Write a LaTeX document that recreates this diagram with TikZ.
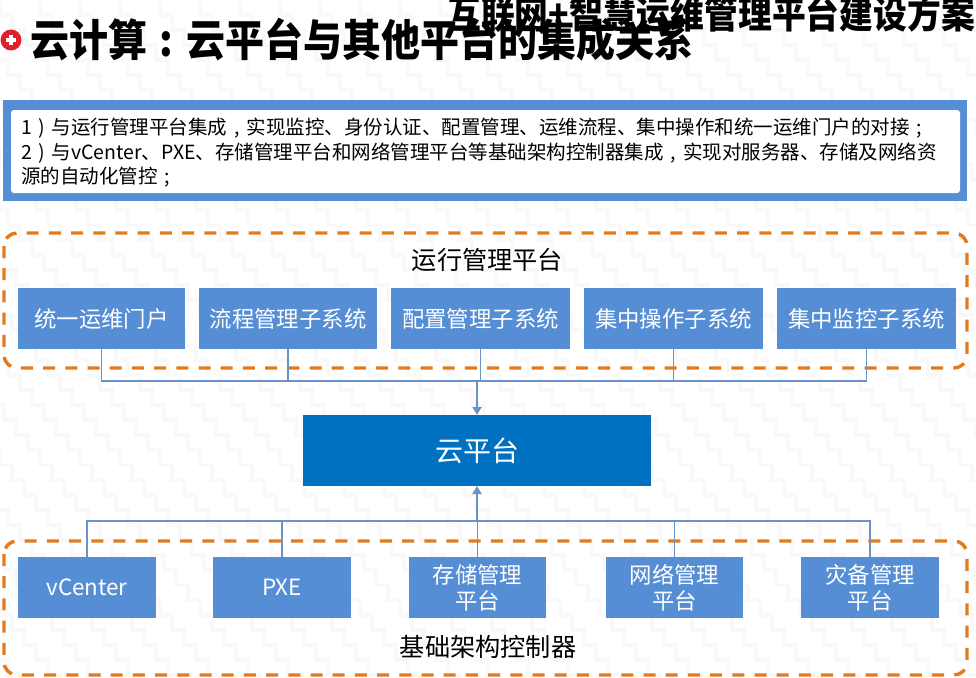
\documentclass[tikz,border=0pt]{standalone}
\usepackage{fontspec}
\setmainfont{Noto Sans CJK SC}
\usetikzlibrary{arrows.meta}
\definecolor{boxblue}{HTML}{558ED5}
\definecolor{cloudblue}{HTML}{0070C0}
\definecolor{dashorange}{HTML}{E47A1E}
\definecolor{linkblue}{HTML}{6A93C6}
\definecolor{iconred}{HTML}{E0202A}
\newcommand{\fw}[1]{\makebox[1em][c]{#1}}
\tikzset{
  sysbox/.style={draw=none,fill=boxblue,text=white,inner sep=0pt,outer sep=0pt,minimum height=61pt,align=center,font=\fontsize{22.4}{26}\selectfont},
  cloudbox/.style={fill=cloudblue,text=white,inner sep=0pt,outer sep=0pt,minimum width=348pt,minimum height=71pt,font=\fontsize{28}{32}\selectfont},
  groupframe/.style={draw=dashorange,line width=3.4pt,rounded corners=13pt,dash pattern=on 12pt off 10.2pt},
  grouplabel/.style={inner sep=0pt,text=black,font=\fontsize{25.2}{29}\selectfont},
  link/.style={draw=linkblue,line width=1.3pt},
  mainlink/.style={draw=linkblue,line width=2pt,-{Triangle[length=8pt,width=9pt]}},
  bgmark/.style={draw=black!2.5,line width=3.5pt},
  titletext/.style={inner sep=0pt,text=black,font=\fontsize{39}{44}\selectfont\bfseries},
  subtitletext/.style={inner sep=0pt,text=black,font=\fontsize{33.8}{38}\selectfont\bfseries},
}
\begin{document}
\begin{tikzpicture}[x=1pt,y=-1pt]
\clip (0,0) rectangle (976,677);
\fill[white] (0,0) rectangle (976,677);
% faint background pattern
\foreach \ox in {-640,-600,...,960}{
  \draw[bgmark] (\ox,0) \foreach \k in {1,...,46}{ -- ++(0,15) -- ++(12,0) };
}
% heading
\fill[iconred] (11,40) circle (10.5);
\fill[white] (6,38) rectangle (16,42);
\fill[white] (9,35) rectangle (13,45);
\node[titletext,anchor=west,yscale=1.12] (title) at (30,39.5) {云计算\fw{:}云平台与其他平台的集成关系};
\node[subtitletext,anchor=east,yscale=1.12] (subtitle) at (975,14) {互联网+智慧运维管理平台建设方案};
% info box
\fill[boxblue] (3,100) rectangle (967,201);
\fill[white,rounded corners=3pt] (11,110) rectangle (960,193);
\node[anchor=north west,inner sep=0pt,text=black,text width=930pt,align=left,font=\fontsize{19.5}{24.5}\selectfont] (info) at (21,118) {1\fw{)}与运行管理平台集成\fw{,}实现监控、身份认证、配置管理、运维流程、集中操作和统一运维门户的对接\fw{;}\\2\fw{)}与vCenter、PXE、存储管理平台和网络管理平台等基础架构控制器集成\fw{,}实现对服务器、存储及网络资\\源的自动化管控\fw{;}};
% frames
\draw[groupframe] (4,233) rectangle (967,368);
\draw[groupframe] (4,541) rectangle (967,675);
\node[grouplabel] (opslabel) at (487.5,260) {运行管理平台};
\node[grouplabel] (infralabel) at (488,647) {基础架构控制器};
% boxes
\node[sysbox,minimum width=167pt] (t1) at (101.5,318.5) {统一运维门户};
\node[sysbox,minimum width=178pt] (t2) at (288,318.5) {流程管理子系统};
\node[sysbox,minimum width=179pt] (t3) at (480.5,318.5) {配置管理子系统};
\node[sysbox,minimum width=179pt] (t4) at (673.5,318.5) {集中操作子系统};
\node[sysbox,minimum width=179pt] (t5) at (866.5,318.5) {集中监控子系统};
\node[cloudbox] (cloud) at (477,450.5) {云平台};
\node[sysbox,minimum width=138pt] (b1) at (87,587.5) {vCenter};
\node[sysbox,minimum width=138pt] (b2) at (282,587.5) {PXE};
\node[sysbox,minimum width=137pt] (b3) at (477.5,587.5) {存储管理\\平台};
\node[sysbox,minimum width=137pt] (b4) at (674.5,587.5) {网络管理\\平台};
\node[sysbox,minimum width=138pt] (b5) at (870,587.5) {灾备管理\\平台};
% connectors
\coordinate (bustop) at (477,381);
\coordinate (busbot) at (477,521);
\draw[link] (t1.south) |- (bustop) (t2.south) |- (bustop) (t3.south) |- (bustop) (t4.south) |- (bustop) (t5.south) |- (bustop);
\draw[link] (b1.north) |- (busbot) (b2.north) |- (busbot) (b3.north) |- (busbot) (b4.north) |- (busbot) (b5.north) |- (busbot);
\draw[mainlink] (bustop) -- (cloud.north);
\draw[mainlink] (busbot) -- (cloud.south);
\end{tikzpicture}
\end{document}
